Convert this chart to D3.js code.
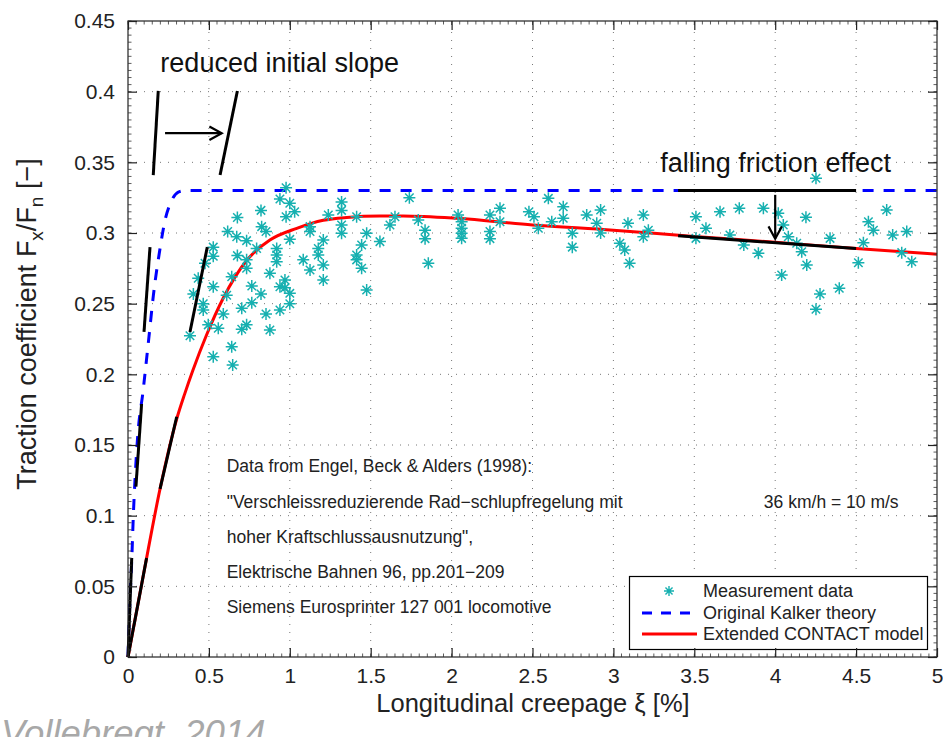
<!DOCTYPE html>
<html>
<head>
<meta charset="utf-8">
<script src="https://cdn.jsdelivr.net/npm/d3@7"></script>
<style>
  html, body { margin: 0; padding: 0; background: #fff; }
  svg { display: block; }
  text { font-family: "Liberation Sans", Arial, Helvetica, sans-serif; }
</style>
</head>
<body>
<svg id="chart" width="943" height="737"></svg>
<script>
// ---------------- DATA ----------------
const xTicks = [0, 0.5, 1, 1.5, 2, 2.5, 3, 3.5, 4, 4.5, 5];
const xTickLabels = ["0", "0.5", "1", "1.5", "2", "2.5", "3", "3.5", "4", "4.5", "5"];
const yTicks = [0, 0.05, 0.1, 0.15, 0.2, 0.25, 0.3, 0.35, 0.4, 0.45];
const yTickLabels = ["0", "0.05", "0.1", "0.15", "0.2", "0.25", "0.3", "0.35", "0.4", "0.45"];

// Measurement data (creepage %, traction coefficient)
const measX = [
  0.977, 0.939, 1.0, 1.03, 0.977, 0.822, 0.676, 0.826, 0.853, 0.616, 0.672, 0.733, 0.795, 0.527, 0.527,
  0.919, 0.919, 0.919, 0.676, 0.733, 0.733, 0.476, 0.877, 0.641, 0.434, 0.970, 0.939, 0.527, 0.765, 1.0,
  0.404, 0.61, 0.822, 1.0, 0.465, 0.765, 0.465, 0.703, 0.939, 0.589, 0.853, 0.733, 0.496, 0.558, 0.703,
  0.877, 0.383, 0.641, 0.527, 0.647, 1.0, 0.970,
  1.125, 1.125, 1.238, 1.32, 1.32, 1.32, 1.32, 1.207, 1.176, 1.176, 1.207, 1.083, 1.125, 1.207,
  1.413, 1.475, 1.444, 1.413, 1.413, 1.444, 1.475, 1.557, 1.619, 1.65,
  1.739, 1.794, 1.836, 1.836, 1.856, 2.04, 2.062, 2.062, 2.062, 2.062, 2.237, 2.237, 2.237, 2.299, 2.299,
  2.478, 2.509, 2.536, 2.598, 2.619, 2.69, 2.69, 2.746, 2.746, 2.835, 2.897, 2.921, 2.921,
  3.04, 3.07, 3.09, 3.10, 3.185, 3.185, 3.216, 3.51, 3.51, 3.572, 3.659, 3.72, 3.778, 3.806, 3.896,
  3.927, 4.019, 4.05, 4.081, 4.133, 4.164, 4.195, 4.04, 4.19, 4.252, 4.339, 4.277, 4.252, 4.396,
  4.514, 4.545, 4.576, 4.607, 4.689, 4.726, 4.782, 4.813, 4.844
];
const measY = [
  0.332, 0.324, 0.321, 0.315, 0.3115, 0.316, 0.311, 0.3045, 0.301, 0.301, 0.2974, 0.2946, 0.289, 0.290, 0.2835,
  0.289, 0.2844, 0.2797, 0.284, 0.281, 0.275, 0.2786, 0.2715, 0.269, 0.268, 0.2668, 0.262, 0.262, 0.2625, 0.2573,
  0.2568, 0.256, 0.2568, 0.250, 0.250, 0.2507, 0.2455, 0.2467, 0.2455, 0.2427, 0.2427, 0.235, 0.235, 0.2326, 0.2319,
  0.2314, 0.2273, 0.2196, 0.2125, 0.2066, 0.2955, 0.2612,
  0.3045, 0.301, 0.3127, 0.322, 0.316, 0.3057, 0.2998, 0.295, 0.289, 0.2844, 0.2774, 0.281, 0.2738, 0.2668,
  0.3115, 0.2998, 0.2915, 0.2844, 0.281, 0.275, 0.2597, 0.2939, 0.3057, 0.3115,
  0.325, 0.3092, 0.302, 0.296, 0.2786, 0.3127, 0.308, 0.3033, 0.2998, 0.2962, 0.3127, 0.301, 0.296, 0.3175, 0.308,
  0.315, 0.3115, 0.3033, 0.3245, 0.308, 0.3186, 0.3104, 0.2998, 0.290, 0.3127, 0.3069, 0.300, 0.3163,
  0.2927, 0.288, 0.3069, 0.2786, 0.3127, 0.2974, 0.302, 0.3115, 0.2962, 0.3033, 0.315, 0.2986, 0.3175, 0.2915, 0.2856,
  0.3175, 0.3139, 0.3057, 0.2974, 0.2927, 0.2868, 0.2774, 0.2703, 0.3111, 0.3387, 0.2962, 0.2568, 0.246, 0.2609,
  0.279, 0.2931, 0.308, 0.302, 0.3163, 0.2986, 0.2861, 0.301, 0.2797
];

// Original Kalker theory
const kalkerX = [0, 0.012, 0.023, 0.033, 0.056, 0.095, 0.13, 0.157, 0.198, 0.229, 0.27, 0.311, 0.352, 1, 2, 3, 4, 5];
const kalkerY = [0, 0.04, 0.068, 0.1, 0.15, 0.19, 0.227, 0.256, 0.289, 0.309, 0.323, 0.329, 0.33, 0.33, 0.33, 0.33, 0.33, 0.33];

// Extended CONTACT model
const contactX = [0, 0.1, 0.2, 0.3, 0.35, 0.4, 0.486, 0.589, 0.733, 0.877, 1.043, 1.207, 1.352, 1.557, 1.7, 2.03, 2.5, 3.0, 3.5, 4.0, 4.5, 5.0];
const contactY = [0, 0.061, 0.12, 0.168, 0.186, 0.2025, 0.228, 0.254, 0.2805, 0.295, 0.3033, 0.309, 0.311, 0.312, 0.312, 0.3104, 0.3057, 0.302, 0.2975, 0.2935, 0.289, 0.285];

// Annotation segments [x1, y1, x2, y2] in data units
const slopeSegments = [
  [0, 0, 0.023, 0.07],
  [0, 0, 0.115, 0.07],
  [0.049, 0.1205, 0.084, 0.179],
  [0.198, 0.119, 0.301, 0.17],
  [0.099, 0.230, 0.136, 0.290],
  [0.383, 0.230, 0.490, 0.290],
  [0.156, 0.341, 0.187, 0.4005],
  [0.569, 0.341, 0.676, 0.4005],
  [3.4, 0.33, 4.5, 0.33],
  [3.4, 0.298, 4.5, 0.289]
];
const arrowSegments = [
  [0.229, 0.3706, 0.579, 0.3706],
  [4.0, 0.327, 4.0, 0.296]
];
const annotationTexts = [
  { x: 0.2, y: 0.4136, text: "reduced initial slope" },
  { x: 3.29, y: 0.3432, text: "falling friction effect" }
];
const infoLines = [
  "Data from Engel, Beck & Alders (1998):",
  "\"Verschleissreduzierende Rad\u2212schlupfregelung mit",
  "hoher Kraftschlussausnutzung\",",
  "Elektrische Bahnen 96, pp.201\u2212209",
  "Siemens Eurosprinter 127 001 locomotive"
];
const infoY = [0.1309, 0.1054, 0.0807, 0.0559, 0.0311];
const speedText = "36 km/h = 10 m/s";
const legendLabels = ["Measurement data", "Original Kalker theory", "Extended CONTACT model"];

// ---------------- DRAWING ----------------
const svg = d3.select("#chart");
const X0 = 128, X1 = 937, Y0 = 657, Y1 = 21;
const x = d3.scaleLinear().domain([0, 5]).range([X0, X1]);
const y = d3.scaleLinear().domain([0, 0.45]).range([Y0, Y1]);

const teal = "#16b0b0";

// grid
const grid = svg.append("g");
grid.selectAll("line.gx").data(xTicks.slice(1, -1)).join("line")
  .attr("x1", d => x(d)).attr("x2", d => x(d)).attr("y1", Y0).attr("y2", Y1)
  .attr("stroke", "#777").attr("stroke-width", 1).attr("stroke-dasharray", "1,7");
grid.selectAll("line.gy").data(yTicks.slice(1, -1)).join("line")
  .attr("y1", d => y(d)).attr("y2", d => y(d)).attr("x1", X0).attr("x2", X1)
  .attr("stroke", "#777").attr("stroke-width", 1).attr("stroke-dasharray", "1,7");

// curves
const line = d3.line().x(d => x(d[0])).y(d => y(d[1])).curve(d3.curveMonotoneX);
svg.append("path").datum(kalkerX.map((v, i) => [v, kalkerY[i]]))
  .attr("d", line).attr("fill", "none").attr("stroke", "#0000ff")
  .attr("stroke-width", 3).attr("stroke-dasharray", "11,10");
svg.append("path").datum(contactX.map((v, i) => [v, contactY[i]]))
  .attr("d", line).attr("fill", "none").attr("stroke", "#ff0000")
  .attr("stroke-width", 3);

// markers
function asterisk(s) {
  const a = s * 0.7071;
  return `M${-s},0L${s},0M0,${-s}L0,${s}M${-a},${-a}L${a},${a}M${-a},${a}L${a},${-a}`;
}
svg.append("g").selectAll("path").data(measX.map((v, i) => [v, measY[i]])).join("path")
  .attr("transform", d => `translate(${x(d[0])},${y(d[1])})`)
  .attr("d", asterisk(6)).attr("fill", "none").attr("stroke", teal).attr("stroke-width", 1.5);

// slope annotations
svg.append("g").selectAll("line").data(slopeSegments).join("line")
  .attr("x1", d => x(d[0])).attr("y1", d => y(d[1]))
  .attr("x2", d => x(d[2])).attr("y2", d => y(d[3]))
  .attr("stroke", "#000").attr("stroke-width", 3);

// arrows
const arrG = svg.append("g");
arrowSegments.forEach(d => {
  const x1 = x(d[0]), y1 = y(d[1]), x2 = x(d[2]), y2 = y(d[3]);
  arrG.append("line").attr("x1", x1).attr("y1", y1).attr("x2", x2).attr("y2", y2)
    .attr("stroke", "#000").attr("stroke-width", 2.2);
  const ang = Math.atan2(y2 - y1, x2 - x1), L = 14, W = 0.5;
  const p1 = [x2 - L * Math.cos(ang - W), y2 - L * Math.sin(ang - W)];
  const p2 = [x2 - L * Math.cos(ang + W), y2 - L * Math.sin(ang + W)];
  arrG.append("path").attr("d", `M${p1}L${x2},${y2}L${p2}`)
    .attr("fill", "none").attr("stroke", "#000").attr("stroke-width", 2.2);
});

// annotation texts
svg.append("g").selectAll("text").data(annotationTexts).join("text")
  .attr("x", d => x(d.x)).attr("y", d => y(d.y))
  .attr("font-size", 27).attr("fill", "#111").text(d => d.text);

// info text block
svg.append("g").selectAll("text").data(infoLines).join("text")
  .attr("x", x(0.61)).attr("y", (d, i) => y(infoY[i]))
  .attr("font-size", 17.5).attr("fill", "#222").text(d => d);
svg.append("text").attr("x", x(3.93)).attr("y", y(infoY[1]))
  .attr("font-size", 17.5).attr("fill", "#222").text(speedText);

// legend
const lg = svg.append("g");
lg.append("rect").attr("x", 629.5).attr("y", 576.5).attr("width", 298).attr("height", 73)
  .attr("fill", "#fff").attr("stroke", "#000").attr("stroke-width", 1.2);
const rowY = [591, 613, 634];
lg.append("path").attr("transform", `translate(669,${rowY[0]})`).attr("d", asterisk(5))
  .attr("fill", "none").attr("stroke", teal).attr("stroke-width", 1.4);
lg.append("line").attr("x1", 642).attr("x2", 697).attr("y1", rowY[1]).attr("y2", rowY[1])
  .attr("stroke", "#0000ff").attr("stroke-width", 3).attr("stroke-dasharray", "10,9");
lg.append("line").attr("x1", 642).attr("x2", 697).attr("y1", rowY[2]).attr("y2", rowY[2])
  .attr("stroke", "#ff0000").attr("stroke-width", 3);
lg.selectAll("text").data(legendLabels).join("text")
  .attr("x", 703).attr("y", (d, i) => rowY[i]).attr("dy", "0.36em")
  .attr("font-size", 18).attr("fill", "#222").text(d => d);

// axes box & ticks
const ax = svg.append("g");
ax.append("rect").attr("x", X0).attr("y", Y1).attr("width", X1 - X0).attr("height", Y0 - Y1)
  .attr("fill", "none").attr("stroke", "#222").attr("stroke-width", 1.2);
const xMinor = d3.range(0, 5.0001, 0.05);
const yMinor = d3.range(0, 0.45001, 0.005);
ax.selectAll("line.xm").data(xMinor).join("line")
  .attr("x1", d => x(d)).attr("x2", d => x(d)).attr("y1", Y0).attr("y2", Y0 - 3.5)
  .attr("stroke", "#333").attr("stroke-width", 0.8);
ax.selectAll("line.xmt").data(xMinor).join("line")
  .attr("x1", d => x(d)).attr("x2", d => x(d)).attr("y1", Y1).attr("y2", Y1 + 3.5)
  .attr("stroke", "#333").attr("stroke-width", 0.8);
ax.selectAll("line.ym").data(yMinor).join("line")
  .attr("y1", d => y(d)).attr("y2", d => y(d)).attr("x1", X0).attr("x2", X0 + 3.5)
  .attr("stroke", "#333").attr("stroke-width", 0.8);
ax.selectAll("line.ymr").data(yMinor).join("line")
  .attr("y1", d => y(d)).attr("y2", d => y(d)).attr("x1", X1).attr("x2", X1 - 3.5)
  .attr("stroke", "#333").attr("stroke-width", 0.8);

const xAxisB = d3.axisBottom(x).tickValues(xTicks).tickFormat((d, i) => xTickLabels[i]).tickSizeInner(-9).tickSizeOuter(0).tickPadding(11);
const yAxisL = d3.axisLeft(y).tickValues(yTicks).tickFormat((d, i) => yTickLabels[i]).tickSizeInner(-9).tickSizeOuter(0).tickPadding(13);
const gx = ax.append("g").attr("transform", `translate(0,${Y0})`).call(xAxisB);
const gy = ax.append("g").attr("transform", `translate(${X0},0)`).call(yAxisL);
const gxt = ax.append("g").attr("transform", `translate(0,${Y1})`).call(d3.axisTop(x).tickValues(xTicks).tickFormat("").tickSizeInner(-9).tickSizeOuter(0));
const gyr = ax.append("g").attr("transform", `translate(${X1},0)`).call(d3.axisRight(y).tickValues(yTicks).tickFormat("").tickSizeInner(-9).tickSizeOuter(0));
[gx, gy, gxt, gyr].forEach(g => {
  g.select(".domain").remove();
  g.selectAll(".tick line").attr("stroke", "#222").attr("stroke-width", 1.2);
  g.selectAll("text").attr("font-family", "\"Liberation Sans\", Arial, sans-serif")
    .attr("font-size", 21).attr("fill", "#222");
});

// axis labels
svg.append("text").attr("x", 533).attr("y", 712).attr("text-anchor", "middle")
  .attr("font-size", 25.5).attr("fill", "#222").text("Longitudinal creepage \u03BE [%]");
const yl = svg.append("text").attr("transform", "translate(36,324) rotate(-90)")
  .attr("text-anchor", "middle").attr("font-size", 27).attr("fill", "#222");
yl.append("tspan").text("Traction coefficient F");
yl.append("tspan").attr("font-size", 19).attr("dy", 7).text("x");
yl.append("tspan").attr("dy", -7).text("/F");
yl.append("tspan").attr("font-size", 19).attr("dy", 7).text("n");
yl.append("tspan").attr("dy", -7).text(" [\u2212]");

// watermark
svg.append("text").attr("x", 1).attr("y", 746)
  .attr("font-family", "\"Open Sans\", \"Liberation Sans\", sans-serif")
  .attr("font-style", "italic").attr("font-size", 36.5).attr("fill", "#a8a8a8")
  .text("Vollebregt, 2014");
</script>
</body>
</html>
